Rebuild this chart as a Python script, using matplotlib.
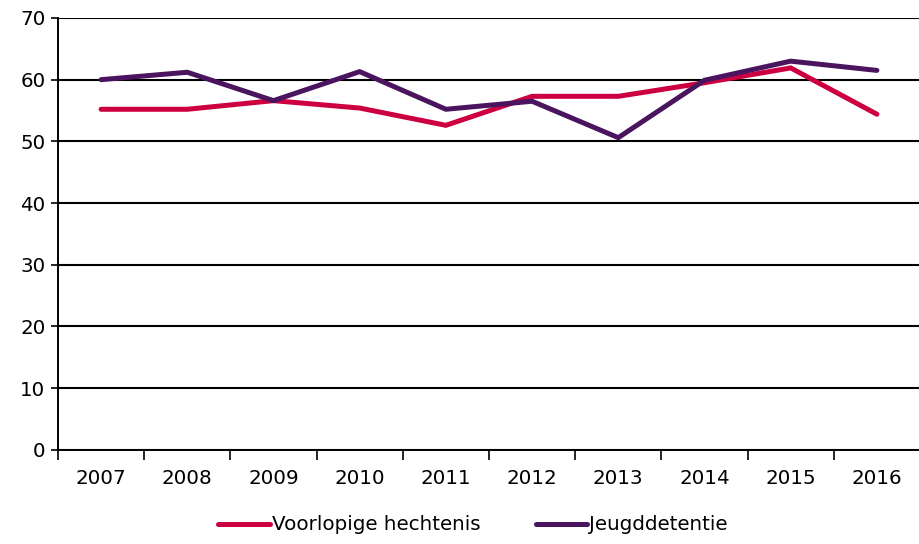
import numpy as np
import matplotlib.pyplot as plt
from matplotlib.ticker import FixedLocator, NullFormatter

years = ["2007", "2008", "2009", "2010", "2011", "2012", "2013", "2014", "2015", "2016"]
voorlopige = [55.2, 55.2, 56.6, 55.4, 52.6, 57.3, 57.3, 59.5, 61.9, 54.4]
jeugddetentie = [60.0, 61.2, 56.6, 61.3, 55.2, 56.5, 50.6, 59.9, 63.0, 61.5]

red = "#CC0040"
purple = "#4A145E"

plt.rcParams["font.family"] = "DejaVu Sans"
fig = plt.figure(figsize=(9.2, 5.44), dpi=100)
ax = fig.add_axes([0.063, 0.173, 0.937, 0.794])

x = np.arange(len(years))
ax.plot(x, voorlopige, color=red, lw=3.6, solid_capstyle="round",
        solid_joinstyle="miter", label="Voorlopige hechtenis", zorder=3)
ax.plot(x, jeugddetentie, color=purple, lw=3.6, solid_capstyle="round",
        solid_joinstyle="miter", label="Jeugddetentie", zorder=4)

ax.set_ylim(0, 70)
ax.set_yticks(range(0, 71, 10))
ax.set_xlim(-0.5, len(years) - 0.5)

# boundary ticks without labels, labels at category centres
ax.xaxis.set_major_locator(FixedLocator(np.arange(-0.5, len(years), 1.0)))
ax.xaxis.set_major_formatter(NullFormatter())
ax.xaxis.set_minor_locator(FixedLocator(x))
ax.set_xticklabels(years, minor=True)
ax.tick_params(axis="x", which="major", length=7, width=1.2, color="black")
ax.tick_params(axis="x", which="minor", length=0, pad=14, labelsize=14.3)
ax.tick_params(axis="y", length=5, width=1.2, labelsize=14.3, pad=4)

ax.grid(axis="y", color="black", lw=1.5, zorder=1)
for s in ["top", "right"]:
    ax.spines[s].set_visible(False)
ax.spines["left"].set_linewidth(1.4)
ax.spines["bottom"].set_linewidth(1.4)
ax.set_axisbelow(True)

fig.legend(loc="center", bbox_to_anchor=(0.514, 0.035), ncol=2, frameon=False,
           fontsize=14.3, handlelength=2.6, handletextpad=0.1, columnspacing=2.8)

fig.savefig("out.png", dpi=100)
